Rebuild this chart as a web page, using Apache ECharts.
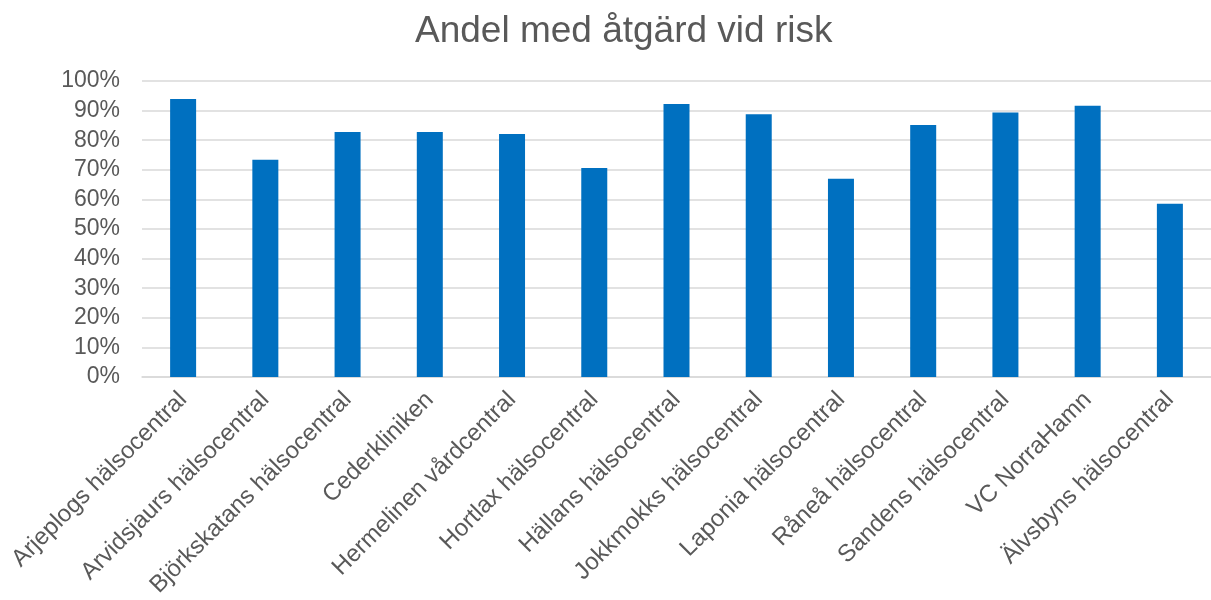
<!DOCTYPE html>
<html>
<head>
<meta charset="utf-8">
<script src="https://cdn.jsdelivr.net/npm/echarts@6/dist/echarts.min.js"></script>
<style>
  html, body { margin: 0; padding: 0; background: #fff; }
  #chart { width: 1211px; height: 600px; }
</style>
</head>
<body>
<div id="chart"></div>
<script>
// kategorier (vårdcentraler)
var categories = [
  'Arjeplogs hälsocentral', 'Arvidsjaurs hälsocentral', 'Björkskatans hälsocentral',
  'Cederkliniken', 'Hermelinen vårdcentral', 'Hortlax hälsocentral',
  'Hällans hälsocentral', 'Jokkmokks hälsocentral', 'Laponia hälsocentral',
  'Råneå hälsocentral', 'Sandens hälsocentral', 'VC NorraHamn', 'Älvsbyns hälsocentral'
];
// andel med åtgärd (procent)
var values = [93.9, 73.4, 82.8, 82.8, 82.1, 70.6, 92.2, 88.8, 67.0, 85.1, 89.4, 91.6, 58.5];
var yTicks = [0, 100, 10]; // min, max, steg

var textColor = '#595959';
var font = "'Liberation Sans', Arial, sans-serif";

var myChart = echarts.init(document.getElementById('chart'));

var option = {
  animation: false,
  title: {
    text: 'Andel med åtgärd vid risk',
    left: 410,
    top: 8,
    textStyle: { color: textColor, fontSize: 37, fontWeight: 'normal', fontFamily: font }
  },
  grid: { left: 142, top: 81, width: 1077, height: 297 },
  xAxis: {
    type: 'category',
    data: categories,
    axisLine: { lineStyle: { color: '#d9d9d9', width: 1.5 } },
    axisTick: { show: false },
    axisLabel: {
      interval: 0,
      rotate: 45,
      margin: 19,
      color: textColor,
      fontSize: 24,
      fontFamily: font
    }
  },
  yAxis: {
    type: 'value',
    min: yTicks[0],
    max: yTicks[1],
    interval: yTicks[2],
    axisLine: { show: false },
    axisTick: { show: false },
    splitLine: { lineStyle: { color: '#d9d9d9', width: 1.5 } },
    axisLabel: {
      margin: 22,
      color: textColor,
      fontSize: 23,
      fontFamily: font,
      formatter: '{value}%'
    }
  },
  series: [{
    type: 'bar',
    data: values,
    barWidth: 26,
    itemStyle: { color: '#0070c0' }
  }]
};
myChart.setOption(option);
</script>
</body>
</html>
